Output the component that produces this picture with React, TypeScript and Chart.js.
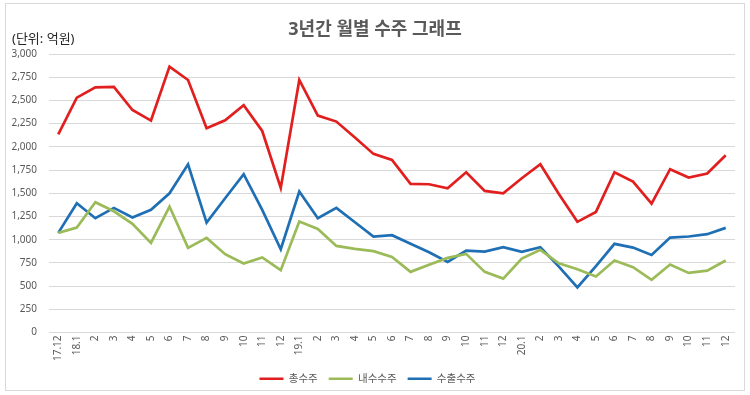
import React, { useEffect, useRef } from "react";
import { Chart, registerables } from "chart.js";

Chart.register(...registerables);

const months: string[] = [
  "17.12",
  "18.1", "2", "3", "4", "5", "6", "7", "8", "9", "10", "11", "12",
  "19.1", "2", "3", "4", "5", "6", "7", "8", "9", "10", "11", "12",
  "20.1", "2", "3", "4", "5", "6", "7", "8", "9", "10", "11", "12",
];

const totalOrders: number[] = [
  2135,
  2530, 2641, 2645, 2397, 2283, 2864, 2720, 2200, 2286, 2448, 2171, 1558,
  2720, 2336, 2272, 2100, 1924, 1859, 1601, 1597, 1554, 1726, 1525, 1500,
  1662, 1812, 1493, 1192, 1299, 1726, 1626, 1389, 1759, 1669, 1712, 1909,
];

const domesticOrders: number[] = [
  1073,
  1130, 1403, 1306, 1170, 965, 1357, 912, 1019, 843, 743, 808, 671,
  1195, 1116, 933, 901, 876, 815, 653, 729, 804, 847, 653, 581,
  797, 890, 746, 682, 603, 775, 703, 567, 732, 642, 667, 775,
];

const exportOrders: number[] = [
  1073,
  1393, 1231, 1342, 1238, 1321, 1500, 1812, 1184, 1446, 1705, 1321, 897,
  1518, 1231, 1342, 1188, 1034, 1048, 955, 865, 761, 883, 872, 919,
  869, 919, 710, 485, 715, 955, 915, 836, 1023, 1034, 1059, 1127,
];

const seriesNames: string[] = ["총수주", "내수수주", "수출수주"];
const chartTitle = "3년간 월별 수주 그래프";
const unitLabel = "(단위: 억원)";

const FONT = "'Noto Sans', 'Noto Sans CJK KR', sans-serif";

export default function App() {
  const canvasRef = useRef<HTMLCanvasElement | null>(null);

  useEffect(() => {
    if (!canvasRef.current) return;
    const mk = (label: string, data: number[], color: string) => ({
      label,
      data,
      borderColor: color,
      backgroundColor: color,
      borderWidth: 2.7,
      pointRadius: 0,
      pointHoverRadius: 0,
      tension: 0,
      fill: false,
      pointStyle: "line" as const,
    });
    const chart = new Chart(canvasRef.current, {
      type: "line",
      data: {
        labels: months,
        datasets: [
          mk(seriesNames[0], totalOrders, "#E21F1F"),
          mk(seriesNames[1], domesticOrders, "#9BBB59"),
          mk(seriesNames[2], exportOrders, "#1F6FB5"),
        ],
      },
      options: {
        responsive: false,
        animation: false,
        layout: { padding: { top: 54, right: 15, bottom: 1, left: 0 } },
        plugins: {
          title: { display: false },
          tooltip: { enabled: false },
          legend: {
            position: "bottom",
            labels: {
              usePointStyle: true,
              pointStyleWidth: 24,
              padding: 11,
              color: "#595959",
              font: { family: FONT, size: 10.5 },
            },
          },
        },
        scales: {
          x: {
            offset: true,
            grid: { display: false, drawTicks: false },
            border: { display: false },
            ticks: {
              autoSkip: false,
              minRotation: 90,
              maxRotation: 90,
              padding: 3,
              color: "#595959",
              font: { family: FONT, size: 10 },
            },
            afterFit: (scale: any) => {
              scale.height = 30;
            },
          },
          y: {
            min: 0,
            max: 3000,
            grid: { color: "#D9D9D9", lineWidth: 1, drawTicks: false },
            border: { display: false },
            ticks: {
              stepSize: 250,
              padding: 12,
              color: "#595959",
              font: { family: FONT, size: 10 },
              callback: (v: any) => Number(v).toLocaleString("en-US"),
            },
            afterFit: (scale: any) => {
              scale.width = 49;
            },
          },
        },
      },
    });
    return () => chart.destroy();
  }, []);

  return (
    <div
      style={{
        position: "absolute",
        left: 0,
        top: 0,
        width: 750,
        height: 395,
        background: "#fff",
        overflow: "hidden",
      }}
    >
      <div
        style={{
          position: "absolute",
          left: 5,
          top: 3,
          width: 740,
          height: 388,
          border: "1px solid #D9D9D9",
          boxSizing: "border-box",
        }}
      />
      <canvas
        ref={canvasRef}
        width={750}
        height={395}
        style={{ position: "absolute", left: 0, top: 0 }}
      />
      <div
        style={{
          position: "absolute",
          left: 0,
          width: 750,
          top: 16,
          textAlign: "center",
          fontFamily: FONT,
          fontSize: 18,
          fontWeight: 700,
          color: "#595959",
          lineHeight: "24px",
        }}
      >
        {chartTitle}
      </div>
      <div
        style={{
          position: "absolute",
          left: 12,
          top: 29,
          fontFamily: FONT,
          fontSize: 13,
          color: "#262626",
          lineHeight: "18px",
          whiteSpace: "nowrap",
        }}
      >
        {unitLabel}
      </div>
    </div>
  );
}
